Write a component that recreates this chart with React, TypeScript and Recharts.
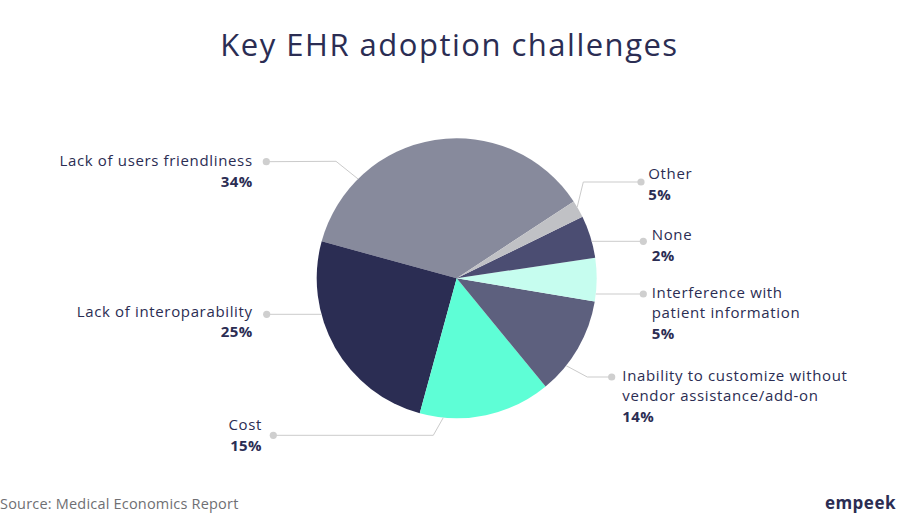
import React from "react";
import { PieChart, Pie, Cell } from "recharts";

// ---- data ----
const categories = [
  "Lack of users friendliness",
  "Lack of interoparability",
  "Cost",
  "Inability to customize without vendor assistance/add-on",
  "Interference with patient information",
  "None",
  "Other",
];
// slice sizes as drawn in the picture (percent of circle)
const sliceValues = [36.5, 25, 15.2, 11.4, 5, 4.9, 2];
// percentages printed in the labels
const labelPercents = ["34%", "25%", "15%", "14%", "5%", "2%", "5%"];
// wrapped label lines
const labelLines = [
  ["Lack of users friendliness"],
  ["Lack of interoparability"],
  ["Cost"],
  ["Inability to customize without", "vendor assistance/add-on"],
  ["Interference with", "patient information"],
  ["None"],
  ["Other"],
];

// ---- styles ----
const colors = ["#878a9c", "#2b2d53", "#5efed6", "#5d607e", "#c6fdef", "#4b4d72", "#c0c1c5"];
const NAVY = "#2b2d53";
const FONT = "'Open Sans', sans-serif";

// label layout, relative to the pie centre
type Layout = {
  side: "left" | "right";
  anchorAngle?: number; // degrees, on the rim
  elbow?: [number, number];
  dot: [number, number];
  textX: number;
  textY: number;
};
const layouts: Layout[] = [
  { side: "left", anchorAngle: 134.8, elbow: [-120.7, -117], dot: [-190.4, -116.6], textX: -204, textY: -118.3 },
  { side: "left", dot: [-190, 36], textX: -204, textY: 32.4 },
  { side: "left", anchorAngle: -95.5, elbow: [-23.4, 157], dot: [-183.4, 157], textX: -194.7, textY: 145.7 },
  { side: "right", anchorAngle: -38.6, elbow: [130.6, 98.7], dot: [155, 98.7], textX: 165.6, textY: 96.7 },
  { side: "right", dot: [186.6, 15.7], textX: 195, textY: 13.4 },
  { side: "right", dot: [186.6, -37], textX: 195, textY: -44.3 },
  { side: "right", anchorAngle: 30.6, elbow: [126.6, -96.3], dot: [184.3, -96.3], textX: 191.6, textY: -105 },
];

const data = categories.map((name, i) => ({ name, value: sliceValues[i] }));

const RAD = Math.PI / 180;

const renderLabel = (props: any) => {
  const { cx, cy, outerRadius, index } = props;
  const L = layouts[index];
  const R = outerRadius;
  const dotX = cx + L.dot[0];
  const dotY = cy + L.dot[1];
  let pts: [number, number][] = [];
  if (L.anchorAngle !== undefined && L.elbow) {
    const ax = cx + R * Math.cos(L.anchorAngle * RAD);
    const ay = cy - R * Math.sin(L.anchorAngle * RAD);
    pts = [[ax, ay], [cx + L.elbow[0], cy + L.elbow[1]], [dotX, dotY]];
  } else {
    const dy = L.dot[1];
    const hx = Math.sqrt(R * R - dy * dy);
    const ax = L.side === "left" ? cx - hx : cx + hx;
    pts = [[ax, dotY], [dotX, dotY]];
  }
  const lines = labelLines[index];
  const tx = cx + L.textX;
  const ty = cy + L.textY;
  const anchor = L.side === "left" ? "end" : "start";
  return (
    <g key={`lbl-${index}`}>
      <polyline points={pts.map((p) => p.join(",")).join(" ")} fill="none" stroke="#cbcbcb" strokeWidth={1} />
      <circle cx={dotX} cy={dotY} r={3.6} fill="#cfcfcf" />
      {lines.map((ln, k) => (
        <text key={k} x={tx} y={ty + k * 20} textAnchor={anchor} dominantBaseline="central" fill={NAVY} fontFamily={FONT} fontSize={15} letterSpacing={0.65}>
          {ln}
        </text>
      ))}
      <text x={tx} y={ty + lines.length * 20.5} textAnchor={anchor} dominantBaseline="central" fill={NAVY} fontFamily={FONT} fontSize={15} fontWeight={700} letterSpacing={0.4}>
        {labelPercents[index]}
      </text>
    </g>
  );
};

export default function App() {
  return (
    <div style={{ position: "absolute", left: 0, top: 0, width: 899, height: 524, background: "#ffffff", overflow: "hidden" }}>
      <div style={{ position: "absolute", left: 0, top: 24, width: 899, textAlign: "center", fontFamily: FONT, fontSize: 31, color: NAVY, lineHeight: "40px", letterSpacing: 1.5 }}>
        Key EHR adoption challenges
      </div>
      <PieChart width={899} height={524} margin={{ top: 0, right: 0, bottom: 0, left: 0 }} style={{ position: "absolute", left: 0, top: 0 }}>
        <Pie
          data={data}
          dataKey="value"
          nameKey="name"
          cx={456.7}
          cy={278.3}
          outerRadius={140}
          startAngle={33.3}
          endAngle={393.3}
          stroke="none"
          labelLine={false}
          label={renderLabel}
          isAnimationActive={false}
        >
          {data.map((d, i) => (
            <Cell key={d.name} fill={colors[i]} />
          ))}
        </Pie>
      </PieChart>
      <div style={{ position: "absolute", left: 0, top: 494, fontFamily: FONT, fontSize: 14.5, color: "#6f6f73", lineHeight: "20px", letterSpacing: 0.2 }}>
        Source: Medical Economics Report
      </div>
      <div style={{ position: "absolute", right: 3, top: 492, fontFamily: FONT, fontSize: 17, fontWeight: 700, color: NAVY, lineHeight: "22px", letterSpacing: 0.5 }}>
        empeek
      </div>
    </div>
  );
}
